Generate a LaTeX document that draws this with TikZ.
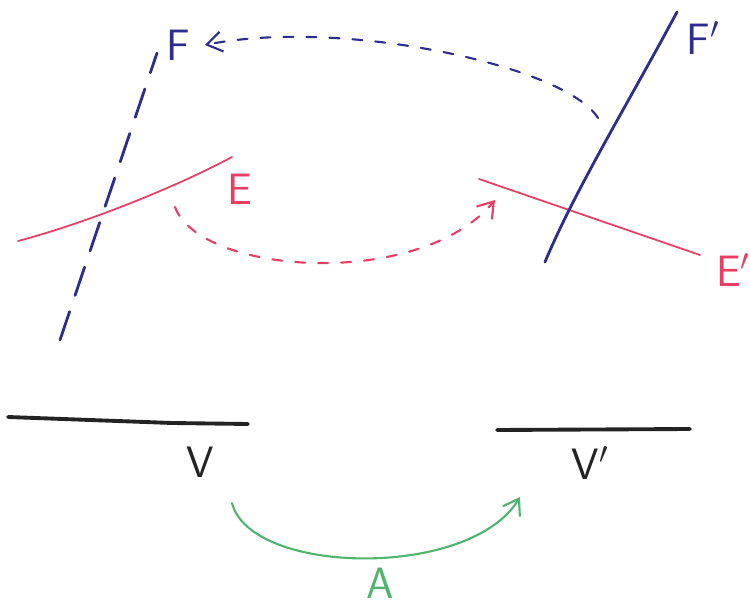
\documentclass[tikz,border=0pt]{standalone}
\usepackage{fontspec}
\usetikzlibrary{arrows.meta}
\definecolor{penblue}{RGB}{45,45,140}
\definecolor{penred}{RGB}{232,62,100}
\definecolor{pengreen}{RGB}{80,180,110}
\definecolor{penblack}{RGB}{35,35,35}
\tikzset{
  lbl/.style={font=\sffamily\fontsize{25}{25}\selectfont,inner sep=0pt},
  fline/.style={penblue,line width=1.6pt,line cap=round},
  fdash/.style={fline,dash pattern=on 6mm off 3.4mm},
  eline/.style={penred,line width=1pt,line cap=round},
  vline/.style={penblack,line width=2.2pt,line cap=round},
  mapdash/.style={-{Straight Barb[length=3mm,width=4mm]},line width=1.2pt,
    dash pattern=on 2mm off 2.6mm,line cap=round},
  mapflow/.style={-{Straight Barb[length=3mm,width=4mm]},line width=1.2pt,line cap=round},
}
\begin{document}
\begin{tikzpicture}[x=0.2mm,y=-0.2mm]
\useasboundingbox (0,0) rectangle (750,606);
% left side: F (dashed) and E
\coordinate (f0) at (60,340);
\coordinate (f1) at (157,53);
\coordinate (e0) at (18,241);
\coordinate (e1) at (232,157);
\node[lbl,penblue] (F) at (178,45) {F};
\node[lbl,penred] (E) at (240,189) {E};
% right side: F' and E'
\coordinate (g0) at (545,262);
\coordinate (g1) at (677,12);
\coordinate (h0) at (479,179);
\coordinate (h1) at (700,255);
\node[lbl,penblue] (Fp) at (703,38) {F$'$};
\node[lbl,penred] (Ep) at (733,270) {E$'$};
% bottom: V and V'
\coordinate (v0) at (8,417);
\coordinate (v1) at (248,424);
\coordinate (w0) at (497,430);
\coordinate (w1) at (690,429);
\node[lbl,penblack] (V) at (200,462) {V};
\node[lbl,penblack] (Vp) at (590,463) {V$'$};
\node[lbl,pengreen] (A) at (380,583) {A};
% arrow ends
\coordinate (fs) at (598,118);
\coordinate (ft) at (205,45);
\coordinate (es) at (175,207);
\coordinate (et) at (495,200);
\coordinate (as) at (232,503);
\coordinate (at) at (520,497);
% the lines
\draw[eline] (e0) .. controls (90,222) and (180,185) .. (e1);
\draw[fdash] (f0) -- (f1);
\draw[eline] (h0) -- (h1);
\draw[fline] (g0) .. controls (575,190) and (630,100) .. (g1);
\draw[vline] (v0) -- (172,423) -- (v1);
\draw[vline] (w0) -- (w1);
% the maps
\draw[mapdash,penblue] (fs) .. controls (565,65) and (340,18) .. (ft);
\draw[mapdash,penred] (es) .. controls (200,275) and (420,290) .. (et);
\draw[mapflow,pengreen] (as) .. controls (250,575) and (470,580) .. (at);
\end{tikzpicture}
\end{document}
